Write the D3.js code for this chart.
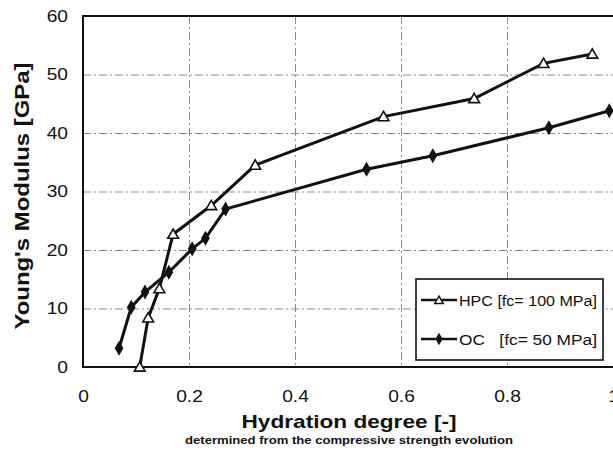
<!DOCTYPE html>
<html>
<head>
<meta charset="utf-8">
<script src="https://cdn.jsdelivr.net/npm/d3@7"></script>
<style>
  body { margin: 0; background: #fff; }
  svg { display: block; font-family: "Liberation Sans", Arial, sans-serif; }
</style>
</head>
<body>
<svg id="chart" width="613" height="455"></svg>
<script>
// values
const hpcX = [0.107, 0.123, 0.144, 0.170, 0.242, 0.325, 0.567, 0.738, 0.869, 0.961]
const hpcY = [0, 8.4, 13.4, 22.7, 27.6, 34.5, 42.8, 45.9, 51.9, 53.5]
const ocX = [0.068, 0.091, 0.117, 0.162, 0.206, 0.231, 0.269, 0.535, 0.660, 0.879, 0.993]
const ocY = [3.2, 10.2, 12.8, 16.2, 20.2, 22.0, 27.0, 33.8, 36.1, 40.9, 43.8]
const xTicks = [0, 0.2, 0.4, 0.6, 0.8, 1]
const yTicks = [0, 10, 20, 30, 40, 50, 60]
const legendLabels = ["HPC [fc= 100 MPa]", "OC   [fc= 50 MPa]"]

const svg = d3.select("#chart")
const pLeft = 83, pRight = 613, pTop = 16, pBottom = 367
const sx = 1.2 // the scan is stretched sideways

const x = d3.scaleLinear().domain([0, 1]).range([pLeft, pRight])
const y = d3.scaleLinear().domain([0, 60]).range([pBottom, pTop])

// dashed grid
const grid = svg.append("g")
    .attr("stroke", "#8c8c8c")
    .attr("stroke-width", 1)
    .attr("stroke-dasharray", "8,3,2,3")
grid.selectAll("line.h")
    .data(yTicks.filter(d => d > 0 && d < 60))
    .enter().append("line")
    .attr("x1", pLeft).attr("x2", pRight)
    .attr("y1", d => y(d) + 0.5).attr("y2", d => y(d) + 0.5)
grid.selectAll("line.v")
    .data(xTicks.filter(d => d > 0 && d < 1))
    .enter().append("line")
    .attr("x1", d => x(d) + 0.5).attr("x2", d => x(d) + 0.5)
    .attr("y1", pTop).attr("y2", pBottom)

// axes
const yAxis = svg.append("g")
    .attr("transform", `translate(${pLeft},0)`)
    .call(d3.axisLeft(y).tickValues(yTicks).tickSize(0).tickPadding(15))
const xAxis = svg.append("g")
    .attr("transform", `translate(0,${pBottom})`)
    .call(d3.axisBottom(x).tickValues(xTicks).tickSize(0).tickPadding(24)
        .tickFormat(d => d === 0 || d === 1 ? d3.format("d")(d) : d3.format(".1f")(d)))

for (const ax of [yAxis, xAxis]) {
    ax.select(".domain").remove()
    ax.selectAll("text")
        .attr("font-size", 16)
        .attr("font-family", "Liberation Sans, Arial, sans-serif")
        .attr("fill", "#111")
}
yAxis.selectAll("text")
    .attr("x", -15 / sx)
    .attr("transform", `scale(${sx},1)`)
xAxis.selectAll("text")
    .attr("transform", `scale(${sx},1)`)

// frame
svg.append("path")
    .attr("d", `M${pRight},${pTop}H${pLeft}V${pBottom}H${pRight}`)
    .attr("fill", "none")
    .attr("stroke", "#111")
    .attr("stroke-width", 2)

// series
const line = d3.line().x(d => x(d[0])).y(d => y(d[1]))
const hpc = hpcX.map((d, i) => [d, hpcY[i]])
const oc = ocX.map((d, i) => [d, ocY[i]])

svg.append("path").datum(oc).attr("d", line)
    .attr("fill", "none").attr("stroke", "#111").attr("stroke-width", 3)
svg.append("path").datum(hpc).attr("d", line)
    .attr("fill", "none").attr("stroke", "#111").attr("stroke-width", 3)

const tri = d3.symbol().type(d3.symbolTriangle).size(50)
const dia = d3.symbol().type(d3.symbolDiamond).size(65)

svg.selectAll("path.oc")
    .data(oc).enter().append("path")
    .attr("d", dia)
    .attr("transform", d => `translate(${x(d[0])},${y(d[1])})`)
    .attr("fill", "#111")

svg.selectAll("path.hpc")
    .data(hpc).enter().append("path")
    .attr("d", tri)
    .attr("transform", d => `translate(${x(d[0])},${y(d[1]) + 1})`)
    .attr("fill", "#fff").attr("stroke", "#111").attr("stroke-width", 1.6)

// legend
const lg = svg.append("g")
lg.append("rect")
    .attr("x", 416).attr("y", 279).attr("width", 187).attr("height", 81)
    .attr("fill", "#fff").attr("stroke", "#111").attr("stroke-width", 1.6)
const rows = [{ y: 300, sym: tri, fill: "#fff" }, { y: 339, sym: dia, fill: "#111" }]
rows.forEach((r, i) => {
    lg.append("line")
        .attr("x1", 421).attr("x2", 457).attr("y1", r.y).attr("y2", r.y)
        .attr("stroke", "#111").attr("stroke-width", 2.5)
    lg.append("path")
        .attr("d", r.sym.size(i === 0 ? 32 : 45))
        .attr("transform", `translate(439,${r.y + (i === 0 ? 1 : 0)})`)
        .attr("fill", r.fill).attr("stroke", "#111").attr("stroke-width", i === 0 ? 1.4 : 0)
    lg.append("text")
        .attr("x", 459).attr("y", r.y + 5.5)
        .attr("font-size", 15.5)
        .attr("textLength", 138).attr("lengthAdjust", "spacingAndGlyphs")
        .style("white-space", "pre")
        .attr("fill", "#111")
        .text(legendLabels[i])
})

// titles
svg.append("text")
    .attr("transform", "translate(29,196) rotate(-90)")
    .attr("text-anchor", "middle")
    .attr("font-size", 20).attr("font-weight", "bold")
    .attr("textLength", 267).attr("lengthAdjust", "spacingAndGlyphs")
    .attr("fill", "#111")
    .text("Young's Modulus [GPa]")

svg.append("text")
    .attr("x", 349).attr("y", 428)
    .attr("text-anchor", "middle")
    .attr("font-size", 19).attr("font-weight", "bold")
    .attr("textLength", 215).attr("lengthAdjust", "spacingAndGlyphs")
    .attr("fill", "#111")
    .text("Hydration degree [-]")

svg.append("text")
    .attr("x", 349).attr("y", 444)
    .attr("text-anchor", "middle")
    .attr("font-size", 10).attr("font-weight", "bold")
    .attr("textLength", 328).attr("lengthAdjust", "spacingAndGlyphs")
    .attr("fill", "#111")
    .text("determined from the compressive strength evolution")
</script>
</body>
</html>
